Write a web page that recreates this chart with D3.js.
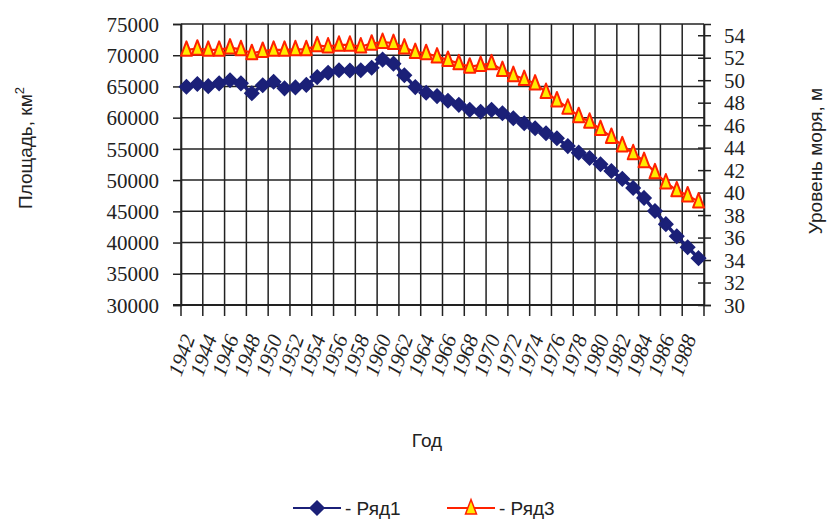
<!DOCTYPE html>
<html>
<head>
<meta charset="utf-8">
<script src="https://cdn.jsdelivr.net/npm/d3@7"></script>
<style>
	body { margin: 0; background: #fff; }
	svg { display: block; }
	.tick-label { font-family: 'Liberation Serif', 'Times New Roman', serif; font-size: 21px; fill: #222; }
	.title { font-family: 'Liberation Sans', Arial, sans-serif; font-size: 19px; fill: #222; }
</style>
</head>
<body>
<div class="container"></div>
<script>
var years = [
	1942, 1943, 1944, 1945, 1946, 1947, 1948, 1949, 1950, 1951,
	1952, 1953, 1954, 1955, 1956, 1957, 1958, 1959, 1960, 1961,
	1962, 1963, 1964, 1965, 1966, 1967, 1968, 1969, 1970, 1971,
	1972, 1973, 1974, 1975, 1976, 1977, 1978, 1979, 1980, 1981,
	1982, 1983, 1984, 1985, 1986, 1987, 1988, 1989
];

// Ряд1 - площадь, км2 (левая ось)
var area = [
	64950, 65400, 65050, 65500, 66000, 65500, 63900, 65200, 65750, 64700,
	64850, 65250, 66500, 67200, 67600, 67550, 67600, 68000, 69300, 68650,
	66800, 64900, 64000, 63450, 62700, 62050, 61250, 60950, 61250, 60700,
	59900, 59100, 58300, 57500, 56700, 55450, 54400, 53550, 52550, 51450,
	50200, 48750, 47150, 45050, 42950, 41000, 39250, 37500
];

// Ряд3 - уровень моря, м (правая ось)
var level = [
	52.7, 52.8, 52.7, 52.7, 52.9, 52.75, 52.4, 52.6, 52.7, 52.7,
	52.75, 52.75, 53.1, 53.0, 53.15, 53.15, 53.0, 53.25, 53.4, 53.3,
	52.9, 52.5, 52.4, 52.1, 51.8, 51.5, 51.2, 51.35, 51.5, 50.9,
	50.45, 50.1, 49.7, 48.95, 48.2, 47.55, 46.8, 46.3, 45.65, 44.95,
	44.2, 43.5, 42.8, 41.8, 40.9, 40.2, 39.75, 39.2
];

var leftTicks = [30000, 35000, 40000, 45000, 50000, 55000, 60000, 65000, 70000, 75000];
var rightTicks = [30, 32, 34, 36, 38, 40, 42, 44, 46, 48, 50, 52, 54];
var yearLabels = [
	1942, 1944, 1946, 1948, 1950, 1952, 1954, 1956, 1958, 1960, 1962, 1964,
	1966, 1968, 1970, 1972, 1974, 1976, 1978, 1980, 1982, 1984, 1986, 1988
];

var plotL = 181, plotR = 704, plotT = 24, plotB = 305;
var navy = '#1b2078', red = '#ff2200', yellow = '#ffea00', grid = '#222';

var svg = d3
	.select('.container')
	.append('svg')
	.attr('width', 827)
	.attr('height', 521);

var x = d3.scaleBand().domain(years).range([plotL, plotR]).padding(0);
var yL = d3.scaleLinear().domain([30000, 75000]).range([plotB, plotT]);
var yR = d3.scaleLinear().domain([30, 55]).range([plotB, plotT]);

function cx(year) {
	return x(year) + x.bandwidth() / 2;
}

// gridlines
var gridG = svg.append('g').attr('stroke', grid).attr('stroke-width', 1.5);

gridG
	.selectAll('line.h')
	.data(leftTicks)
	.enter()
	.append('line')
	.attr('x1', plotL)
	.attr('x2', plotR)
	.attr('y1', function(d) { return yL(d); })
	.attr('y2', function(d) { return yL(d); });

var vLines = yearLabels.map(function(d) { return x(d); }).concat([plotR]);

gridG
	.selectAll('line.v')
	.data(vLines)
	.enter()
	.append('line')
	.attr('x1', function(d) { return d; })
	.attr('x2', function(d) { return d; })
	.attr('y1', plotT)
	.attr('y2', plotB + 11);

// left axis
var leftAxis = svg
	.append('g')
	.attr('transform', 'translate(' + plotL + ',0)')
	.call(d3.axisLeft(yL).tickValues(leftTicks).tickSize(8).tickPadding(14).tickFormat(d3.format('d')));

leftAxis.select('.domain').attr('stroke', grid).attr('stroke-width', 1.6);
leftAxis.selectAll('.tick line').attr('stroke', grid).attr('stroke-width', 1.5);
leftAxis
	.selectAll('.tick text')
	.attr('class', 'tick-label')
	.attr('dy', '0.34em');

// right axis
var rightAxis = svg
	.append('g')
	.attr('transform', 'translate(' + plotR + ',0)')
	.call(d3.axisRight(yR).tickValues(rightTicks).tickSize(7).tickPadding(13));

rightAxis.select('.domain').attr('stroke', grid).attr('stroke-width', 1.6);
rightAxis.selectAll('.tick line').attr('stroke', grid).attr('stroke-width', 1.5).attr('x1', -6);
rightAxis
	.selectAll('.tick text')
	.attr('class', 'tick-label')
	.attr('dy', '0.34em');

// bottom axis line
svg
	.append('line')
	.attr('x1', plotL - 8)
	.attr('x2', plotR)
	.attr('y1', plotB)
	.attr('y2', plotB)
	.attr('stroke', grid)
	.attr('stroke-width', 1.8);

// year labels
svg
	.append('g')
	.selectAll('text')
	.data(yearLabels)
	.enter()
	.append('text')
	.attr('class', 'tick-label')
	.attr('font-style', 'italic')
	.attr('font-size', 23)
	.attr('text-anchor', 'end')
	.attr('transform', function(d) {
		return 'translate(' + (cx(d) + 9) + ',' + (plotB + 33) + ') rotate(-70)';
	})
	.text(function(d) { return d; });

// markers
var diamond = 'M0,-7L7,0L0,7L-7,0Z';
var triangle = 'M0,-8.5L5.5,6L-5.5,6Z';

// Ряд1 line + diamonds
var areaLine = d3
	.line()
	.x(function(d, i) { return cx(years[i]); })
	.y(function(d) { return yL(d); });

svg
	.append('path')
	.datum(area)
	.attr('d', areaLine)
	.attr('fill', 'none')
	.attr('stroke', navy)
	.attr('stroke-width', 3.5);

svg
	.append('g')
	.selectAll('path')
	.data(area)
	.enter()
	.append('path')
	.attr('d', diamond)
	.attr('transform', function(d, i) {
		return 'translate(' + cx(years[i]) + ',' + yL(d) + ')';
	})
	.attr('fill', navy)
	.attr('stroke', navy)
	.attr('stroke-width', 1.5);

// Ряд3 line + triangles
var levelLine = d3
	.line()
	.x(function(d, i) { return cx(years[i]); })
	.y(function(d) { return yR(d); });

svg
	.append('path')
	.datum(level)
	.attr('d', levelLine)
	.attr('fill', 'none')
	.attr('stroke', red)
	.attr('stroke-width', 2.2);

svg
	.append('g')
	.selectAll('path')
	.data(level)
	.enter()
	.append('path')
	.attr('d', triangle)
	.attr('transform', function(d, i) {
		return 'translate(' + cx(years[i]) + ',' + yR(d) + ')';
	})
	.attr('fill', yellow)
	.attr('stroke', red)
	.attr('stroke-width', 2)
	.attr('stroke-linejoin', 'round');

// axis titles
var lt = svg
	.append('text')
	.attr('class', 'title')
	.attr('text-anchor', 'middle')
	.attr('transform', 'translate(32,148) rotate(-90)');
lt.append('tspan').text('Площадь, км');
lt.append('tspan').attr('font-size', 13).attr('dy', -8).text('2');

svg
	.append('text')
	.attr('class', 'title')
	.attr('text-anchor', 'middle')
	.attr('transform', 'translate(822,161) rotate(-90)')
	.text('Уровень моря, м');

svg
	.append('text')
	.attr('class', 'title')
	.attr('text-anchor', 'middle')
	.attr('font-size', 20)
	.attr('x', 427)
	.attr('y', 447)
	.text('Год');

// legend
var legend = [
	{ name: '- Ряд1', color: navy, shape: diamond, fill: navy, x1: 293 },
	{ name: '- Ряд3', color: red, shape: triangle, fill: yellow, x1: 447 }
];

var lg = svg
	.append('g')
	.selectAll('g')
	.data(legend)
	.enter()
	.append('g')
	.attr('transform', function(d) { return 'translate(' + d.x1 + ',508)'; });

lg.append('line')
	.attr('x1', 0)
	.attr('x2', 48)
	.attr('stroke', function(d) { return d.color; })
	.attr('stroke-width', 2);

lg.append('path')
	.attr('d', function(d) { return d.shape; })
	.attr('transform', 'translate(24,0)')
	.attr('fill', function(d) { return d.fill; })
	.attr('stroke', function(d) { return d.color; })
	.attr('stroke-width', 1.5);

lg.append('text')
	.attr('class', 'title')
	.attr('x', 52)
	.attr('dy', '0.36em')
	.attr('font-size', 21)
	.text(function(d) { return d.name; });
</script>
</body>
</html>
